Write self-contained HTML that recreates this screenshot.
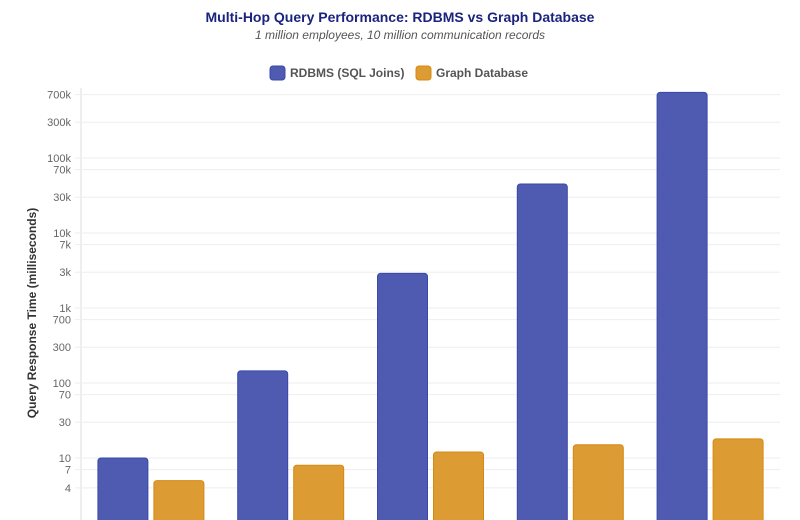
<!DOCTYPE html>
<html><head><meta charset="utf-8"><style>
body{margin:0;background:#fff;font-family:"Liberation Sans",Arial,sans-serif}
svg{display:block}
</style></head><body>
<svg id="chart" width="800" height="520">
<text x="400" y="22" text-anchor="middle" font-size="14" font-weight="bold" fill="#1a237e">Multi-Hop Query Performance: RDBMS vs Graph Database</text>
<text x="400" y="39" text-anchor="middle" font-size="12" font-style="italic" fill="#555">1 million employees, 10 million communication records</text>
<g>
<g><rect x="270" y="66" width="15" height="14" rx="3" fill="#4f5bb0" stroke="#3949ab"/><text x="290" y="77" font-size="12" font-weight="bold" fill="#555">RDBMS (SQL Joins)</text></g>
<g><rect x="416" y="66" width="15" height="14" rx="3" fill="#dd9b33" stroke="#d68910"/><text x="436" y="77" font-size="12" font-weight="bold" fill="#555">Graph Database</text></g>
</g>
<text transform="translate(36,313) rotate(-90)" text-anchor="middle" font-size="12" font-weight="bold" fill="#333">Query Response Time (milliseconds)</text>
<g id="grid"></g><g id="bars"></g>
</svg>
<script>
const categories = ['1 hop','2 hops','3 hops','4 hops','5 hops'];
const rdbmsValues = [10, 145, 2900, 45000, 750000];
const graphValues = [5, 8, 12, 15, 18];
const tickValues = [4,7,10,30,70,100,300,700,1000,3000,7000,10000,30000,70000,100000,300000,700000];
const tickLabels = ['4','7','10','30','70','100','300','700','1k','3k','7k','10k','30k','70k','100k','300k','700k'];
const NS='http://www.w3.org/2000/svg';
const left=81,right=780,bottom=540;
function y(v){return 458-75*(Math.log10(v)-1);}
function mk(t,a){const e=document.createElementNS(NS,t);for(const k in a)e.setAttribute(k,a[k]);return e;}
const grid=document.getElementById('grid'),bars=document.getElementById('bars');
const axis=mk('line',{x1:left,x2:left,y1:88,y2:520,stroke:'#ddd'});


grid.appendChild(axis);
tickValues.forEach((v,i)=>{
  const yy=y(v);
  const l=mk('line',{x1:left-6,x2:right,y1:yy,y2:yy,stroke:'#eee'});
  
  
  grid.appendChild(l);
  const t=mk('text',{x:left-10,y:yy+4,'text-anchor':'end','font-size':'11',fill:'#666'});
  t.textContent=tickLabels[i];
  
  
  grid.appendChild(t);
});
const band=(right-left)/categories.length, bw=50, gap=6;
categories.forEach((c,i)=>{
  const cx=left+band*(i+0.5);
  [[rdbmsValues[i],'#4f5bb0','#3949ab',cx-gap/2-bw,'bar-rdbms'],[graphValues[i],'#dd9b33','#d68910',cx+gap/2,'bar-graph']].forEach(s=>{
    const top=y(s[0]);
    const r=mk('rect',{x:s[3],y:top,width:bw,height:bottom-top,rx:3,fill:s[1],stroke:s[2],'stroke-width':1});
    
    
    bars.appendChild(r);
  });
});
</script>
</body></html>
